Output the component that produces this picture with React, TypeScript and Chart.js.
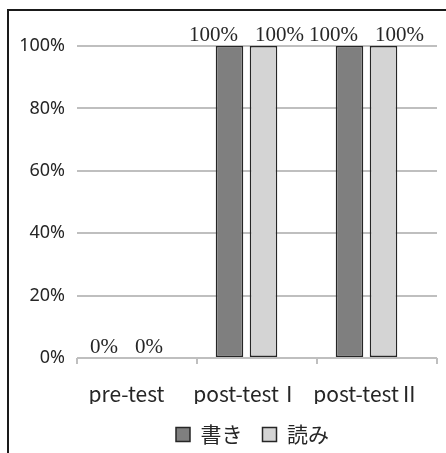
import React, { useEffect, useRef } from 'react';
import { Chart, registerables } from 'chart.js';

Chart.register(...registerables);

// ---- data ----
const categories = ['pre-test', 'post-testⅠ', 'post-testⅡ'];
const seriesNames = ['書き', '読み'];
const writingValues = [0, 100, 100];
const readingValues = [0, 100, 100];
const yTickStep = 20;

const SANS = '"Noto Sans", "Noto Sans CJK JP", sans-serif';
const CJK = '"Noto Sans CJK JP", "Noto Sans", sans-serif';
const SERIF = '"Liberation Serif", "Times New Roman", serif';
const TEXT = '#262626';
const GRID = '#bfbfbf';

const valueLabels = {
  id: 'valueLabels',
  afterDatasetsDraw(chart: any) {
    const ctx = chart.ctx;
    ctx.save();
    ctx.font = `21px ${SERIF}`;
    ctx.fillStyle = TEXT;
    ctx.textAlign = 'center';
    ctx.textBaseline = 'alphabetic';
    const gap = 17;
    const n = chart.data.labels.length;
    for (let i = 0; i < n; i++) {
      const items = chart.data.datasets.map((ds: any, d: number) => {
        const el = chart.getDatasetMeta(d).data[i];
        const v = ds.data[i].y;
        const text = `${v}%`;
        return { x: el.x, y: el.y, text, w: ctx.measureText(text).width };
      });
      for (let k = 1; k < items.length; k++) {
        const a = items[k - 1];
        const b = items[k];
        const need = (a.w + b.w) / 2 + gap;
        if (b.x - a.x < need) {
          const mid = (a.x + b.x) / 2;
          a.x = mid - need / 2;
          b.x = mid + need / 2;
        }
      }
      items.forEach((it: any) => ctx.fillText(it.text, it.x, it.y - 5.5));
    }
    ctx.restore();
  },
};

export default function App() {
  const ref = useRef<HTMLCanvasElement | null>(null);

  useEffect(() => {
    if (!ref.current) return;
    const chart = new Chart(ref.current, {
      type: 'bar',
      data: {
        labels: categories,
        datasets: [
          {
            label: seriesNames[0],
            data: writingValues.map((v, i) => ({ x: i, y: v })),
            backgroundColor: '#7f7f7f',
            borderColor: '#262626',
            borderWidth: 1.5,
            borderSkipped: false,
            categoryPercentage: 0.567,
            barPercentage: 0.81,
            xAxisID: 'x',
            yAxisID: 'y',
          },
          {
            label: seriesNames[1],
            data: readingValues.map((v, i) => ({ x: i, y: v })),
            backgroundColor: '#d4d4d4',
            borderColor: '#262626',
            borderWidth: 1.5,
            borderSkipped: false,
            categoryPercentage: 0.567,
            barPercentage: 0.81,
            xAxisID: 'x',
            yAxisID: 'y',
          },
        ],
      } as any,
      options: {
        animation: false,
        responsive: false,
        devicePixelRatio: 1,
        layout: { padding: { top: 35, left: 0, right: 0, bottom: 16 } },
        plugins: {
          tooltip: { enabled: false },
          legend: {
            position: 'bottom',
            labels: {
              font: { family: CJK, size: 21 },
              color: TEXT,
              boxWidth: 14,
              boxHeight: 14,
              padding: 20,
            },
          },
        },
        scales: {
          x2: {
            type: 'category',
            labels: categories,
            position: 'bottom',
            offset: true,
            grid: { offset: true, drawOnChartArea: false, tickLength: 6, color: GRID, lineWidth: 2 },
            border: { display: false },
            ticks: { display: false },
            afterFit: (s: any) => { s.height = 6; },
          },
          x: {
            type: 'linear',
            position: 'bottom',
            min: -0.4125,
            max: 2.5875,
            offset: false,
            grid: { display: false },
            border: { display: false },
            afterBuildTicks: (s: any) => { s.ticks = categories.map((_, i) => ({ value: i })); },
            ticks: {
              callback: (v: any) => categories[v] ?? '',
              font: { family: CJK, size: 21 },
              color: TEXT,
              padding: 9,
              autoSkip: false,
              maxRotation: 0,
            },
            afterFit: (s: any) => { s.height = 40; },
          },
          y: {
            type: 'linear',
            position: 'left',
            min: 0,
            max: 100,
            ticks: {
              stepSize: yTickStep,
              callback: (v: any) => `${v}%`,
              font: { family: SANS, size: 18 },
              color: TEXT,
              padding: 12,
            },
            grid: { color: GRID, lineWidth: 2, drawTicks: false },
            border: { display: false },
            afterFit: (s: any) => { s.width = 68; },
          },
          yR: {
            type: 'linear',
            position: 'right',
            display: true,
            grid: { display: false },
            border: { display: false },
            ticks: { display: false },
            afterFit: (s: any) => { s.width = 59; },
          },
        },
      } as any,
      plugins: [valueLabels],
    });
    return () => chart.destroy();
  }, []);

  return (
    <div
      style={{
        position: 'fixed',
        left: 7,
        top: 9,
        width: 439,
        height: 444,
        overflow: 'hidden',
        borderLeft: '2px solid #1a1a1a',
        borderTop: '2px solid #1a1a1a',
        boxSizing: 'border-box',
        background: '#fff',
      }}
    >
      <canvas ref={ref} width={487} height={460} style={{ display: 'block' }} />
    </div>
  );
}
